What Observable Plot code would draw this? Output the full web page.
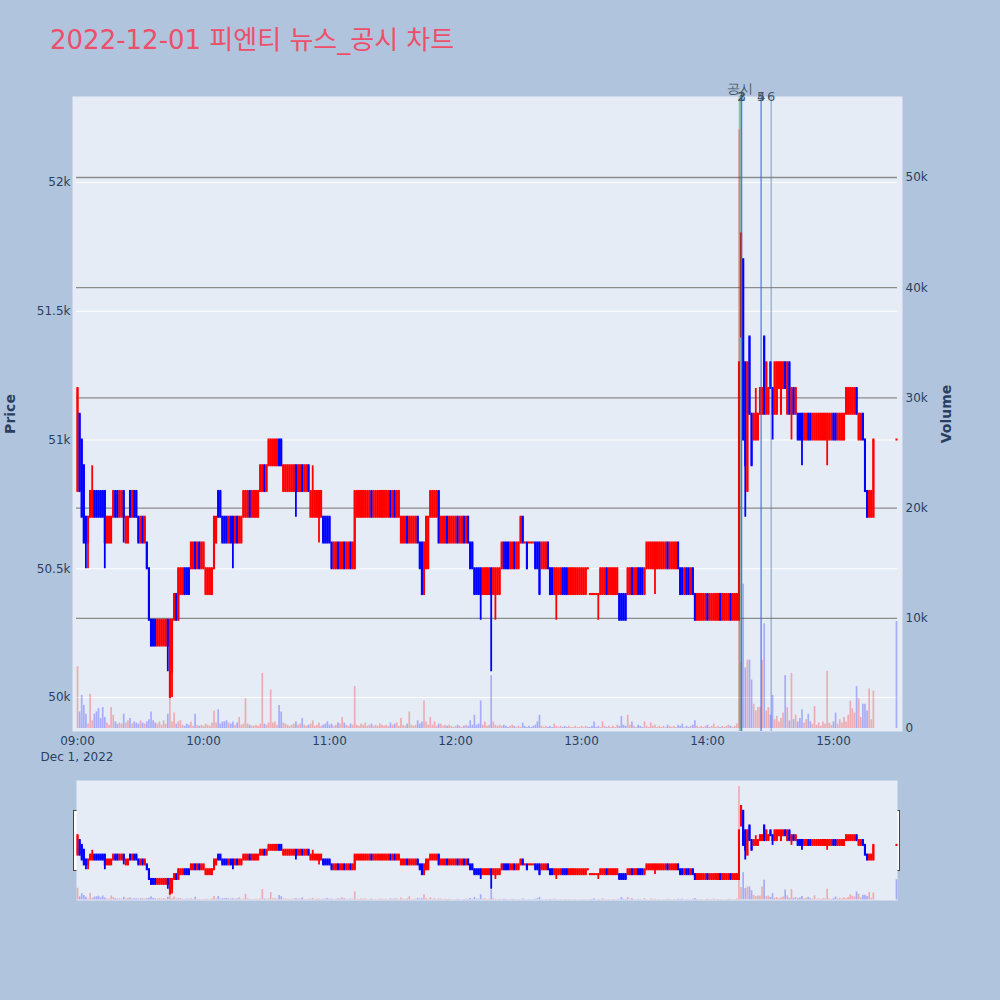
<!DOCTYPE html>
<html lang="ko">
<head>
<meta charset="UTF-8">
<title>2022-12-01 피엔티 뉴스_공시 차트</title>
<script src="https://cdn.jsdelivr.net/npm/d3@7"></script>
<script src="https://cdn.jsdelivr.net/npm/@observablehq/plot@0.6"></script>
<style>
  body { margin: 0; background: #b0c4de; font-family: "DejaVu Sans", "Noto Sans CJK KR", sans-serif; }
  #chart { position: relative; width: 1000px; height: 1000px; overflow: hidden; }
  .title { position: absolute; left: 50px; top: 27px; font-size: 26px; line-height: 26px; color: #ed4f6b; white-space: nowrap; }
  .ytitle { position: absolute; transform: translate(-50%, -50%) rotate(-90deg); font-size: 14px; font-weight: bold; color: #2a3f5f; white-space: nowrap; }
  .date { position: absolute; transform: translate(-50%, -50%); font-size: 12px; color: #2a3f5f; white-space: nowrap; }
  .handle { position: absolute; width: 3px; height: 59px; background: #fff; border: 1px solid #444; }
</style>
</head>
<body>
<div id="chart">
  <div class="title">2022-12-01 피엔티 뉴스_공시 차트</div>
  <div class="ytitle" style="left:10px; top:414px;">Price</div>
  <div class="ytitle" style="left:946px; top:414px;">Volume</div>
  <div class="date" style="left:77px; top:757px;">Dec 1, 2022</div>
  <div class="handle" style="left:73px; top:810px;"></div>
  <div class="handle" style="left:895px; top:810px;"></div>
</div>
<script>
// 1분봉, 09:00 ~ 15:19 + 15:30 종가. 가격은 100원 단위
const openH = [
  508,511,510,509,507,506,507,507,508,508, 508,508,508,508,506,506,506,507,508,508,
  507,507,508,506,506,508,507,508,508,507, 506,507,506,506,505,503,503,503,502,502,
  502,502,502,503,500,501,503,504,503,504, 504,505,505,505,505,505,506,505,506,505,
  505,504,504,504,504,505,506,508,508,507, 507,507,506,507,507,506,507,506,506,507,
  507,507,508,507,507,507,507,508,508,509, 508,509,509,509,509,509,510,510,508,508,
  508,508,508,508,509,508,508,509,508,508, 509,507,507,507,507,507,507,507,507,507,
  507,506,505,505,506,505,505,506,505,505, 506,505,505,507,507,507,507,507,507,507,
  508,507,507,507,507,507,507,507,507,508, 507,508,507,507,506,506,506,507,506,506,
  506,506,507,506,506,504,505,505,507,507, 507,507,508,506,506,506,507,506,506,506,
  506,507,506,506,507,506,507,506,506,505, 505,505,505,504,504,504,504,505,504,504,
  504,504,505,506,506,506,505,505,506,505, 505,506,507,506,506,506,506,506,506,506,
  506,505,505,505,506,505,505,504,504,504, 504,505,505,505,504,504,504,504,504,504,
  504,504,504,505,504,504,504,504,504,504, 504,504,505,504,504,504,504,504,504,504,
  504,504,504,504,505,504,504,505,505,505, 504,505,505,505,505,505,505,505,505,505,
  505,506,505,505,505,505,506,505,505,504, 505,505,504,505,504,503,503,503,503,503,
  504,503,503,503,503,503,504,503,503,503, 503,504,503,503,503,503,514,517,513,508,
  514,511,510,510,510,511,511,514,511,511, 513,512,511,511,512,511,512,513,511,513,
  511,512,511,511,511,511,510,510,511,511, 510,510,510,510,510,510,510,510,510,510,
  511,511,510,510,510,510,511,511,511,511, 511,512,510,510,511,510,508,507,507,507,
  510
];
const closeH = [
  512,508,507,506,506,507,508,508,507,507, 507,507,507,506,507,507,507,508,507,507,
  508,508,507,507,507,507,508,507,507,506, 507,506,507,505,503,502,502,502,503,503,
  503,503,503,502,503,503,504,503,505,505, 505,504,504,504,506,506,505,506,505,506,
  506,505,505,505,505,507,507,507,507,506, 506,506,507,506,506,507,506,507,507,508,
  508,508,507,508,508,508,508,509,509,508, 509,510,510,510,510,510,509,509,509,509,
  509,509,509,509,508,509,509,508,509,509, 508,508,508,508,508,508,508,506,506,506,
  506,505,506,506,505,506,506,505,506,506, 505,506,508,508,508,508,508,508,508,508,
  507,508,508,508,508,508,508,508,508,507, 508,507,508,508,507,507,507,506,507,507,
  507,507,506,505,504,506,507,507,508,508, 508,508,506,507,507,507,506,507,507,507,
  507,506,507,507,506,507,506,505,505,504, 504,504,504,505,505,505,505,504,505,505,
  505,505,506,505,505,505,506,506,505,506, 506,507,506,506,505,506,506,506,505,505,
  504,506,506,506,505,504,504,505,505,505, 505,504,504,504,505,505,505,505,505,505,
  505,505,505,505,504,504,504,504,504,505, 505,505,504,505,505,505,505,505,503,503,
  503,503,505,505,504,505,505,504,504,504, 505,506,506,506,506,506,506,506,506,506,
  506,505,506,506,506,506,505,504,504,505, 504,504,505,504,503,504,504,504,504,504,
  503,504,504,504,504,504,503,504,504,504, 504,503,504,504,504,513,518,510,509,513,
  511,509,511,511,511,512,512,511,513,512, 512,511,513,513,513,513,513,512,513,511,
  512,511,512,510,510,510,511,511,510,510, 511,511,511,511,511,511,511,511,511,511,
  510,510,511,511,511,511,512,512,512,512, 512,511,511,511,510,508,507,508,508,510,
  510
];
// 거래량, 천 주 단위
const volumeK = [
  5.6,1.5,3.0,2.1,1.3,0.4,3.1,0.7,1.3,1.5, 1.8,0.9,1.9,1.0,0.5,0.3,1.9,1.2,0.6,0.4,
  0.5,0.4,1.3,0.5,0.7,0.9,0.4,0.6,0.5,0.4, 0.7,0.5,0.4,0.6,0.8,1.5,0.7,0.5,0.4,0.6,
  0.3,0.7,0.4,1.3,2.8,0.6,1.4,0.4,0.6,0.7, 0.3,0.2,0.4,0.3,0.6,0.2,1.3,0.3,0.2,0.3,
  0.2,0.4,0.3,0.2,0.5,1.6,0.5,1.7,0.4,0.6, 0.6,0.7,0.5,0.4,0.6,0.3,0.5,1.0,0.3,0.4,
  2.7,0.4,0.3,0.2,0.2,0.3,0.2,0.4,5.0,0.4, 0.3,0.5,3.5,0.5,0.6,0.3,2.1,1.5,0.5,0.4,
  0.3,0.2,0.3,0.4,0.6,0.3,0.4,0.9,0.3,0.2, 0.3,0.4,0.7,0.2,0.3,0.5,0.2,0.3,0.4,0.6,
  0.3,0.4,0.2,0.3,0.5,0.4,1.0,0.5,0.3,0.2, 0.4,0.3,3.8,0.3,0.2,0.4,0.3,0.5,0.2,0.3,
  0.4,0.2,0.3,0.2,0.4,0.3,0.2,0.3,0.2,0.5, 0.3,0.4,0.5,0.2,0.9,0.3,0.2,0.4,1.5,0.3,
  0.2,0.3,0.7,0.4,0.6,2.5,0.6,0.3,1.0,0.3, 0.6,0.2,0.4,0.4,0.2,0.3,0.2,0.3,0.2,0.1,
  0.2,0.3,0.2,0.1,0.2,0.3,0.2,0.7,0.3,1.2, 0.3,0.4,2.5,0.3,0.6,0.2,0.3,4.8,0.6,0.3,
  0.2,0.3,0.2,0.3,0.2,0.1,0.2,0.3,0.2,0.1, 0.2,0.1,0.5,0.2,0.1,0.2,0.1,0.2,0.3,0.6,
  1.2,0.2,0.1,0.2,0.1,0.2,0.1,0.4,0.2,0.1, 0.2,0.1,0.2,0.1,0.2,0.1,0.1,0.2,0.1,0.1,
  0.2,0.1,0.2,0.1,0.1,0.2,0.6,0.1,0.2,0.1, 0.6,0.2,0.1,0.2,0.1,0.2,0.1,0.3,0.2,1.1,
  0.3,0.2,1.2,0.3,0.6,0.2,0.1,0.3,0.2,0.1, 0.6,0.2,0.1,0.5,0.2,0.3,0.1,0.2,0.1,0.2,
  0.1,0.3,0.2,0.1,0.2,0.1,0.3,0.2,0.4,0.1, 0.2,0.1,0.2,0.3,0.7,0.2,0.1,0.2,0.1,0.2,
  0.3,0.1,0.2,0.4,0.1,0.2,0.1,0.2,0.1,0.2, 0.3,0.2,0.1,0.2,0.4,54.3,6.0,13.1,5.5,6.2,
  6.2,4.4,2.2,1.6,1.9,1.9,6.2,9.5,1.6,1.9, 1.2,3.0,0.8,1.1,0.6,0.9,1.4,4.8,1.9,0.7,
  5.0,0.8,1.2,0.6,0.9,1.7,0.5,0.8,1.3,0.6, 0.4,2.0,0.3,0.5,0.2,0.6,0.4,5.2,0.5,0.3,
  0.6,1.4,0.4,0.8,0.5,1.0,0.6,1.2,2.5,1.8, 1.4,3.8,2.7,1.0,2.2,2.2,1.6,3.6,0.8,3.4,
  9.7
];
// 몸통 밖으로 나온 꼬리: [시각, 저가, 고가] (100원 단위)
const wicks = [
  ["09:04", 505, 507], ["09:05", 505, 507], ["09:07", 507, 509], ["09:13", 505, 508],
  ["09:22", 506, 508], ["09:43", 501, 503], ["09:45", 500, 503], ["10:14", 505, 507],
  ["10:44", 507, 509], ["10:52", 507, 509], ["10:55", 506, 508], ["12:12", 503, 505],
  ["12:17", 501, 505], ["12:19", 503, 505], ["12:40", 504, 506], ["12:48", 503, 505],
  ["13:08", 503, 504], ["13:35", 504, 506], ["14:18", 507, 513], ["14:23", 510, 512],
  ["14:27", 511, 514], ["14:31", 510, 512], ["14:40", 510, 512], ["14:45", 509, 511],
  ["14:57", 509, 511]
];
const disclosures = [["14:15:25", "공시"]];
const news = [
  ["14:16:10", "1"], ["14:16:10", "2"], ["14:16:20", "3"],
  ["14:25:30", "4"], ["14:25:35", "5"], ["14:30:20", "6"]
];
const priceTicks = [50000, 50500, 51000, 51500, 52000];
const volumeTicks = [0, 10000, 20000, 30000, 40000, 50000];

const at = (hms) => {
  const [h, m, s = 0] = hms.split(":").map(Number);
  return new Date(2022, 11, 1, h, m, s);
};

const minutes = d3.timeMinute.range(at("09:00"), at("15:20")).concat([at("15:30")]);
if (openH.length !== minutes.length || closeH.length !== minutes.length || volumeK.length !== minutes.length) {
  console.warn("length mismatch", minutes.length, openH.length, closeH.length, volumeK.length);
}
const wickMap = new Map(wicks.map(([hm, lo, hi]) => [+at(hm), [lo * 100, hi * 100]]));
const candles = minutes.map((time, i) => {
  const open = openH[i] * 100, close = closeH[i] * 100;
  const w = wickMap.get(+time);
  return {
    time, open, close,
    low: w ? w[0] : Math.min(open, close),
    high: w ? w[1] : Math.max(open, close),
    volume: volumeK[i] * 1000,
    color: close >= open ? "#ff0000" : "#0000ff",
    volColor: close > open ? "#ff0000" : "#0000ff"
  };
});
const disclosureRows = disclosures.map(([t, label]) => ({time: at(t), label}));
const newsRows = news.map(([t, label]) => ({time: at(t), label}));
const hourTicks = d3.timeHour.range(at("09:00"), at("15:01"));

const chart = document.getElementById("chart");
const svgStyle = {background: "none", overflow: "visible", fontSize: "12px",
  fontFamily: "'DejaVu Sans', sans-serif", color: "#2a3f5f"};
const priceDomain = [49868, 52334];
const volumeDomain = [-270, 57350];

const mainFrame = {
  width: 1000, height: 770, marginTop: 96, marginBottom: 39, marginLeft: 72, marginRight: 98,
  style: svgStyle
};
const mainX = {type: "time", domain: [at("08:57:37"), at("15:32:52")]};

const sliderFrame = {
  width: 1000, height: 120, marginTop: 0, marginBottom: 0, marginLeft: 76, marginRight: 103,
  style: svgStyle
};
const sliderX = {type: "time", domain: [at("08:59:30"), at("15:30:30")], axis: null};

function addLayer(svg, top) {
  svg.style.position = "absolute";
  svg.style.left = "0px";
  svg.style.top = top + "px";
  chart.append(svg);
}

const candleMarks = [
  Plot.ruleX(candles, {x: "time", y1: "low", y2: "high", stroke: "color", strokeWidth: 1.8}),
  Plot.ruleX(candles, {x: "time", y1: "open", y2: "close", stroke: "color", strokeWidth: 2.1, strokeLinecap: "square"})
];
const volumeMarks = [
  Plot.ruleX(candles, {x: "time", y: "volume", stroke: "volColor", strokeOpacity: 0.27, strokeWidth: 1.7})
];

// 본 차트: 배경, 가격 격자, 축
addLayer(Plot.plot({
  ...mainFrame,
  x: mainX,
  y: {domain: priceDomain},
  marks: [
    Plot.frame({fill: "#e5ecf6", stroke: "none"}),
    Plot.gridY({ticks: priceTicks, stroke: "#ffffff", strokeOpacity: 1, strokeWidth: 1, insetLeft: 4, insetRight: 5}),
    Plot.axisY({ticks: priceTicks, tickFormat: d3.format("~s"), tickSize: 0, tickPadding: 2, label: null}),
    Plot.axisX({ticks: hourTicks, tickFormat: d3.timeFormat("%H:%M"), tickSize: 0, tickPadding: 5, label: null})
  ]
}), 0);

// 거래량
addLayer(Plot.plot({
  ...mainFrame,
  x: {...mainX, axis: null},
  y: {domain: volumeDomain},
  color: {type: "identity"},
  marks: [
    Plot.gridY({ticks: volumeTicks.slice(1), stroke: "#8c8c8c", strokeOpacity: 1, strokeWidth: 1.3, insetLeft: 4, insetRight: 5}),
    ...volumeMarks,
    Plot.axisY({anchor: "right", ticks: volumeTicks, tickFormat: d3.format("~s"), tickSize: 0, tickPadding: 3, label: null})
  ]
}), 0);

// 캔들, 뉴스/공시 세로선
addLayer(Plot.plot({
  ...mainFrame,
  x: {...mainX, axis: null},
  y: {domain: priceDomain, axis: null},
  color: {type: "identity"},
  marks: [
    ...candleMarks,
    Plot.ruleX(disclosureRows, {x: "time", stroke: "green", strokeOpacity: 0.35, strokeWidth: 2.3}),
    Plot.ruleX(newsRows, {x: "time", stroke: "royalblue", strokeOpacity: 0.55, strokeWidth: 1.2}),
    Plot.text(newsRows, {x: "time", text: "label", frameAnchor: "top", lineAnchor: "middle", fontSize: 13, fill: "#44546a"}),
    Plot.text(disclosureRows, {x: "time", text: "label", frameAnchor: "top", lineAnchor: "middle", dy: -8, fontSize: 13, fill: "#44546a"})
  ]
}), 0);

// 레인지 슬라이더
addLayer(Plot.plot({
  ...sliderFrame,
  x: sliderX,
  y: {domain: volumeDomain, axis: null},
  color: {type: "identity"},
  marks: [
    Plot.frame({fill: "#e5ecf6", stroke: "none"}),
    ...volumeMarks
  ]
}), 780);

addLayer(Plot.plot({
  ...sliderFrame,
  x: sliderX,
  y: {domain: priceDomain, axis: null},
  color: {type: "identity"},
  marks: candleMarks
}), 780);
</script>
</body>
</html>
